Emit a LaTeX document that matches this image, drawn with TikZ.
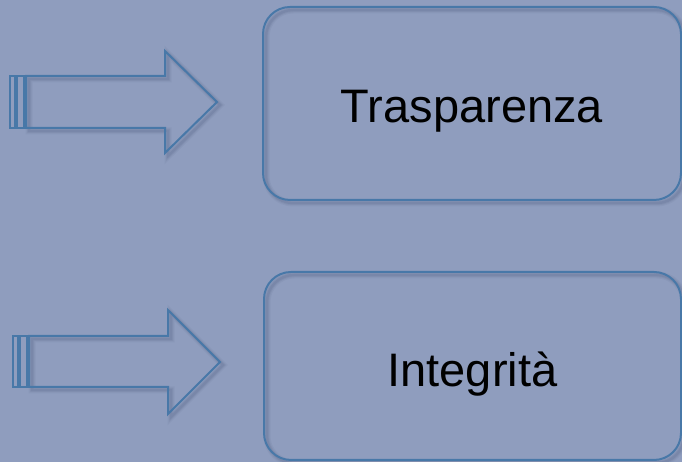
\documentclass[tikz,border=0pt]{standalone}
\usepackage{fontspec}
\setmainfont{Liberation Sans}
\definecolor{bgcol}{RGB}{143,157,190}
\definecolor{edgecol}{RGB}{72,120,168}
\definecolor{shadecol}{RGB}{40,55,90}
\tikzset{
  outline/.style={draw=edgecol, line width=2pt, line join=miter},
  stripe/.style={draw=edgecol, line width=1.5pt},
  shadeA/.style={draw=shadecol, line width=7pt, opacity=0.05},
  shadeB/.style={draw=shadecol, line width=4.5pt, opacity=0.07},
  shadeC/.style={draw=shadecol, line width=2.5pt, opacity=0.09},
  box/.style={outline, rounded corners=27pt, inner sep=0pt,
    font=\fontsize{47}{56}\selectfont, text=black, text depth=0pt},
}
\begin{document}
\begin{tikzpicture}[x=1pt, y=1pt]
\fill[bgcol] (0,0) rectangle (682,462);
\useasboundingbox (0,0) rectangle (682,462);

% shadows of the shapes
\foreach \s in {shadeA,shadeB,shadeC}{
  \draw[\s, shift={(3,-3)}] (26,386) -- (165,386) -- (165,411) -- (217,360) -- (165,309) -- (165,334) -- (26,334) -- cycle;
  \draw[\s, shift={(3,-3)}] (29,126) -- (168,126) -- (168,152) -- (220,100) -- (168,48) -- (168,75) -- (29,75) -- cycle;
  \draw[\s, rounded corners=27pt, shift={(3,-3)}] (263,262) rectangle (681,455);
  \draw[\s, rounded corners=27pt, shift={(3,-3)}] (264,2) rectangle (681,190);
}

% boxes
\node[box, minimum width=418pt, minimum height=193pt, text height=38pt] (b1) at (472,358.5) {Trasparenza};
\node[box, minimum width=417pt, minimum height=188pt, text height=42pt] (b2) at (472.5,96) {Integrità};

% arrow 1
\draw[outline] (26,386) -- (165,386) -- (165,411) -- (217,360) -- (165,309) -- (165,334) -- (26,334) -- cycle;
\draw[stripe] (10,334) rectangle (15,386);
\draw[stripe] (17,334) rectangle (24,386);

% arrow 2
\draw[outline] (29,126) -- (168,126) -- (168,152) -- (220,100) -- (168,48) -- (168,75) -- (29,75) -- cycle;
\draw[stripe] (13,75) rectangle (18,126);
\draw[stripe] (20,75) rectangle (27,126);
\end{tikzpicture}
\end{document}
